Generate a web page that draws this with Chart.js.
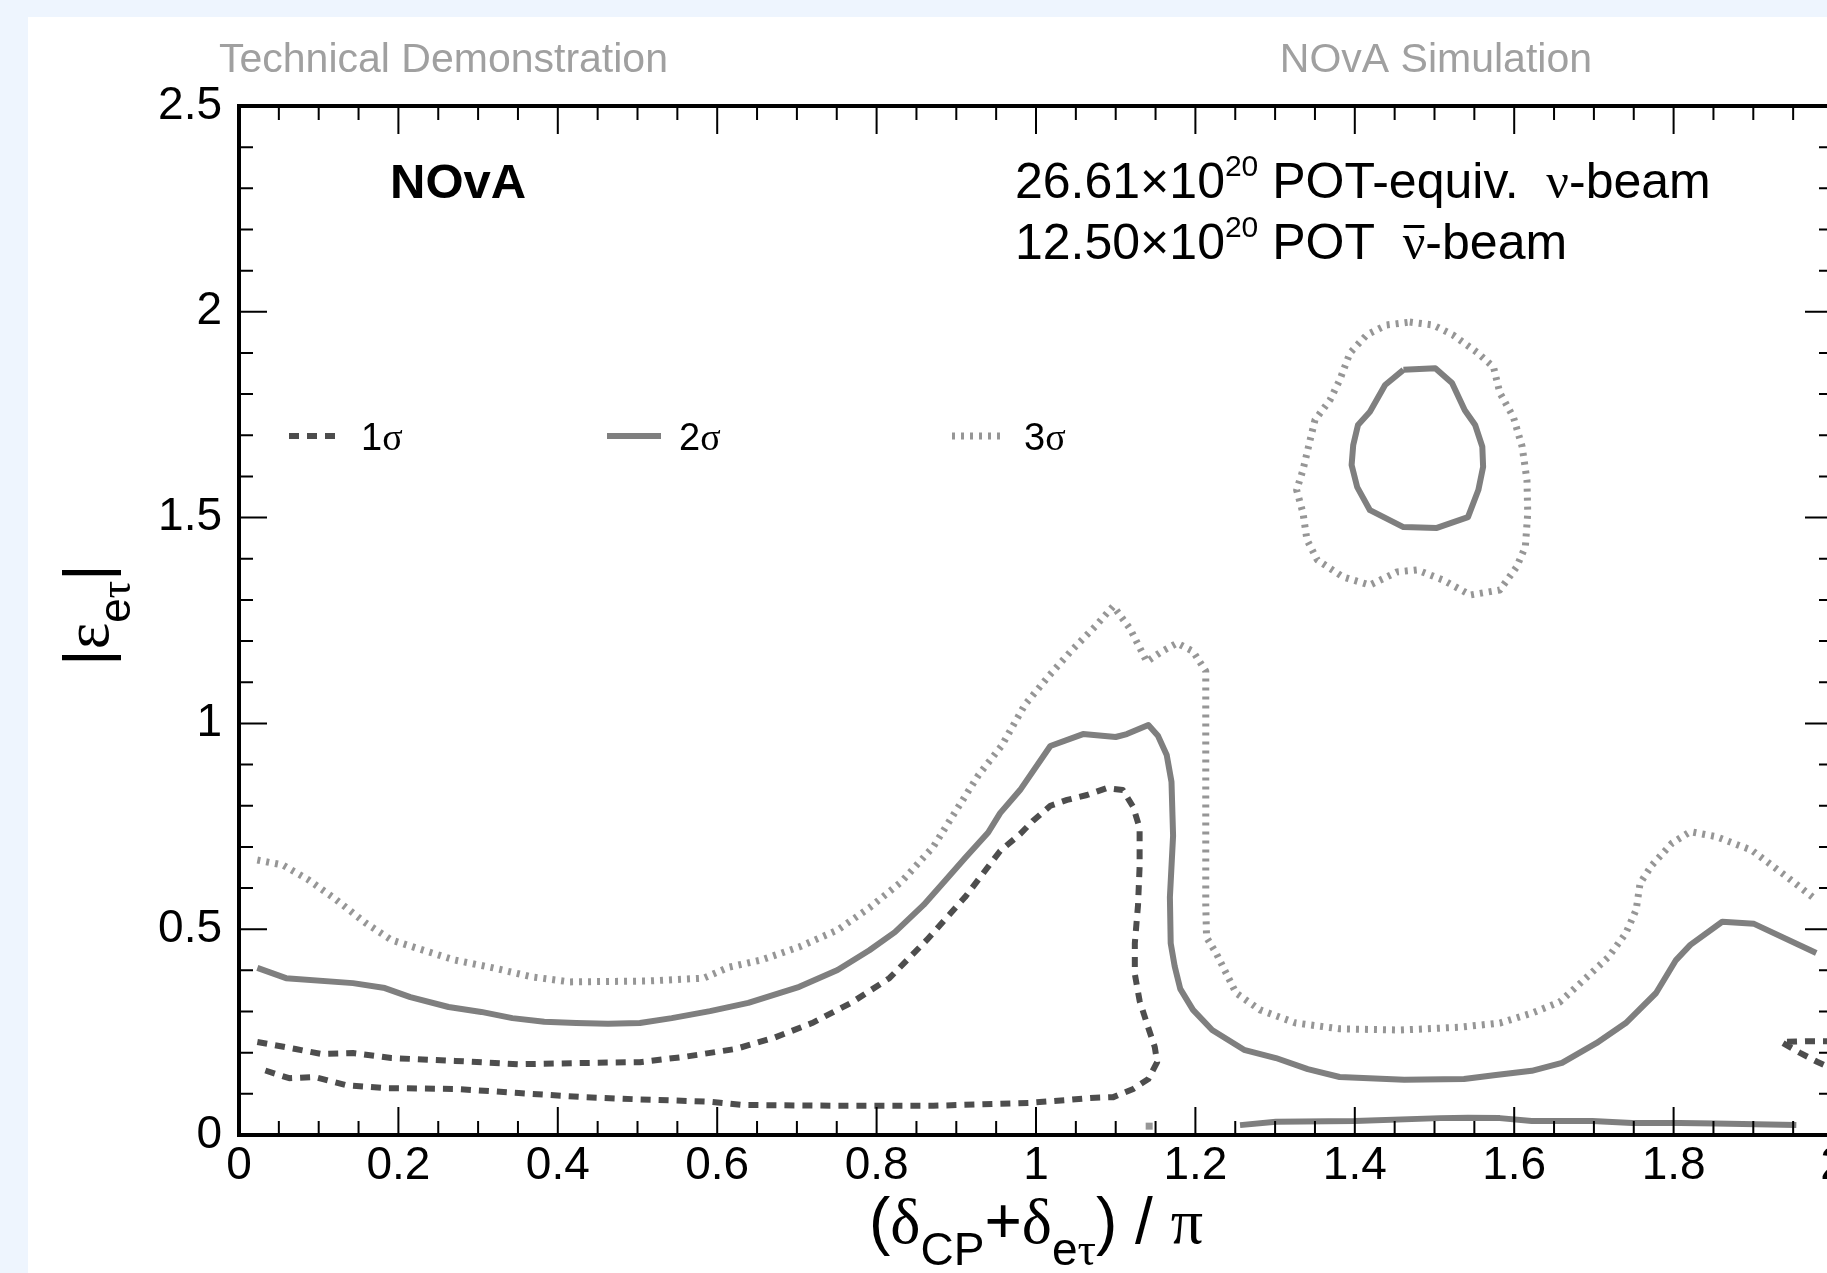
<!DOCTYPE html>
<html>
<head>
<meta charset="utf-8">
<title>NOvA |eps_etau| contours</title>
<script src="https://cdn.jsdelivr.net/npm/chart.js@4.4.1/dist/chart.umd.min.js"></script>
<style>
  html, body { margin: 0; padding: 0; background: #eef5fe; overflow: hidden; }
  #card { position: absolute; left: 28px; top: 17px; width: 1900px; height: 1300px; background: #fff; }
  #plot { position: absolute; left: 0; top: 0; }
</style>
</head>
<body>
<div id="card"></div>
<canvas id="plot" width="1900" height="1273"></canvas>
<script>
// axis ticks
const xTicks = [0, 0.2, 0.4, 0.6, 0.8, 1, 1.2, 1.4, 1.6, 1.8, 2];
const xTickLabels = ['0', '0.2', '0.4', '0.6', '0.8', '1', '1.2', '1.4', '1.6', '1.8', '2'];
const yTicks = [0, 0.5, 1, 1.5, 2, 2.5];
const yTickLabels = ['0', '0.5', '1', '1.5', '2', '2.5'];
const legendLabels = ['1σ', '2σ', '3σ'];

// 1 sigma: one loop open at the left edge, plus the piece wrapping in at x = 2
const sigma1Loop = [
  [0.023,0.226],[0.071,0.209],[0.103,0.197],[0.143,0.199],[0.191,0.187],[0.271,0.180],
  [0.351,0.172],[0.432,0.175],[0.503,0.177],[0.559,0.190],[0.623,0.209],[0.671,0.236],
  [0.719,0.272],[0.768,0.321],[0.816,0.381],[0.863,0.474],[0.911,0.578],[0.955,0.690],
  [0.980,0.731],[0.996,0.763],[1.018,0.800],[1.039,0.814],[1.064,0.826],[1.089,0.843],
  [1.109,0.838],[1.122,0.797],[1.130,0.746],[1.130,0.652],[1.128,0.558],[1.124,0.466],
  [1.124,0.391],[1.130,0.326],[1.141,0.260],[1.149,0.214],[1.152,0.177],[1.141,0.136],
  [1.122,0.112],[1.097,0.092],[1.068,0.090],[1.039,0.085],[0.991,0.078],[0.871,0.071],
  [0.752,0.071],[0.631,0.073],[0.591,0.081],[0.496,0.087],[0.432,0.092],[0.351,0.102],
  [0.271,0.112],[0.183,0.114],[0.135,0.121],[0.095,0.141],[0.063,0.138],[0.031,0.158]
];
const sigma1Edge = [[2.0,0.228],[1.965,0.228],[1.935,0.226],[1.958,0.200],[1.980,0.178],[2.0,0.160]];

// 2 sigma
const sigma2Main = [
  [0.023,0.406],[0.059,0.381],[0.143,0.369],[0.183,0.357],[0.215,0.335],[0.263,0.311],
  [0.304,0.299],[0.343,0.284],[0.383,0.275],[0.423,0.272],[0.463,0.270],[0.503,0.272],
  [0.543,0.284],[0.591,0.301],[0.639,0.321],[0.703,0.360],[0.751,0.401],[0.791,0.449],
  [0.823,0.493],[0.859,0.559],[0.887,0.620],[0.911,0.673],[0.940,0.735],[0.955,0.782],
  [0.980,0.838],[1.018,0.945],[1.059,0.974],[1.100,0.967],[1.114,0.974],[1.141,0.996],
  [1.153,0.970],[1.164,0.923],[1.170,0.858],[1.172,0.727],[1.168,0.578],[1.169,0.466],
  [1.174,0.410],[1.181,0.355],[1.197,0.304],[1.221,0.255],[1.261,0.207],[1.301,0.187],
  [1.341,0.160],[1.381,0.141],[1.462,0.134],[1.537,0.136],[1.577,0.146],[1.622,0.156],
  [1.660,0.175],[1.703,0.223],[1.740,0.272],[1.778,0.345],[1.803,0.425],[1.821,0.462],
  [1.861,0.518],[1.901,0.513],[1.979,0.442]
];
const sigma2Floor = [
  [1.256,0.024],[1.301,0.032],[1.400,0.034],[1.507,0.041],[1.542,0.042],[1.582,0.041],
  [1.622,0.034],[1.698,0.034],[1.748,0.029],[1.808,0.029],[1.853,0.028],[1.954,0.024]
];
const sigma2Island = [
  [1.461,1.859],[1.501,1.863],[1.522,1.827],[1.538,1.761],[1.551,1.725],[1.560,1.672],
  [1.561,1.623],[1.555,1.567],[1.542,1.501],[1.503,1.475],[1.461,1.477],[1.419,1.518],
  [1.403,1.574],[1.396,1.628],[1.398,1.676],[1.404,1.725],[1.419,1.757],[1.438,1.822],
  [1.461,1.859]
];

// 3 sigma
const sigma3Main = [
  [0.023,0.668],[0.055,0.656],[0.087,0.620],[0.119,0.576],[0.159,0.515],[0.191,0.474],
  [0.231,0.449],[0.271,0.425],[0.319,0.406],[0.368,0.384],[0.415,0.372],[0.511,0.374],
  [0.583,0.381],[0.615,0.408],[0.655,0.425],[0.703,0.457],[0.751,0.498],[0.791,0.552],
  [0.831,0.615],[0.871,0.700],[0.928,0.875],[0.957,0.946],[0.986,1.045],[1.016,1.115],
  [1.045,1.178],[1.074,1.235],[1.097,1.285],[1.118,1.230],[1.139,1.150],[1.158,1.175],
  [1.177,1.195],[1.197,1.175],[1.213,1.127],[1.213,0.814],[1.213,0.560],[1.214,0.480],
  [1.226,0.442],[1.251,0.345],[1.281,0.304],[1.326,0.272],[1.381,0.258],[1.457,0.255],
  [1.532,0.262],[1.582,0.272],[1.622,0.296],[1.657,0.323],[1.687,0.376],[1.718,0.432],
  [1.740,0.490],[1.753,0.547],[1.758,0.612],[1.773,0.656],[1.798,0.709],[1.821,0.737],
  [1.853,0.725],[1.898,0.692],[1.939,0.632],[1.979,0.571]
];
const sigma3Island = [
  [1.469,1.975],[1.498,1.968],[1.523,1.944],[1.553,1.902],[1.574,1.866],[1.582,1.803],
  [1.599,1.744],[1.610,1.672],[1.616,1.591],[1.617,1.511],[1.614,1.429],[1.603,1.380],
  [1.582,1.324],[1.545,1.312],[1.511,1.348],[1.478,1.373],[1.453,1.368],[1.419,1.336],
  [1.385,1.356],[1.353,1.397],[1.340,1.446],[1.335,1.511],[1.327,1.567],[1.335,1.616],
  [1.344,1.689],[1.350,1.737],[1.369,1.786],[1.381,1.834],[1.394,1.900],[1.415,1.944],
  [1.440,1.968],[1.469,1.975]
];
const sigma3Speck = [[1.142,0.013],[1.142,0.030]];

const SANS = '"Liberation Sans", Arial, Helvetica, sans-serif';
const SERIF = '"Liberation Serif", "Times New Roman", serif';

const groupStyle = {
  '1σ': { color: '#4d4d4d', width: 6, dash: [10, 8] },
  '2σ': { color: '#7f7f7f', width: 6, dash: [] },
  '3σ': { color: '#969696', width: 7, dash: [3, 6] }
};

function contour(group, pts, extra) {
  const st = groupStyle[group];
  return Object.assign({
    label: group,
    data: pts.map(p => ({ x: p[0], y: p[1] })),
    showLine: true,
    pointRadius: 0,
    pointHoverRadius: 0,
    borderColor: st.color,
    borderWidth: st.width,
    borderDash: st.dash,
    borderCapStyle: 'butt',
    borderJoinStyle: 'round',
    tension: 0,
    fill: false
  }, extra || {});
}

function richWidth(ctx, parts) {
  let w = 0;
  parts.forEach(p => { ctx.font = p.font; w += ctx.measureText(p.t).width; });
  return w;
}

function drawRich(ctx, parts, x, y, align) {
  const total = richWidth(ctx, parts);
  let cx = align === 'center' ? x - total / 2 : align === 'right' ? x - total : x;
  const spans = [];
  parts.forEach(p => {
    ctx.font = p.font;
    ctx.fillText(p.t, cx, y + (p.dy || 0));
    const w = ctx.measureText(p.t).width;
    spans.push({ x: cx, w: w });
    cx += w;
  });
  return spans;
}

/** inward ROOT-style ticks and frame */
const frameTicks = {
  id: 'frameTicks',
  afterDraw(chart) {
    const { ctx, chartArea: a, scales: { x, y } } = chart;
    ctx.save();
    ctx.strokeStyle = '#000';
    ctx.lineWidth = 2;
    ctx.beginPath();
    for (let i = 0; i <= 40; i++) {
      const px = x.getPixelForValue(i * 0.05);
      const len = i % 4 === 0 ? 28 : 14;
      ctx.moveTo(px, a.bottom); ctx.lineTo(px, a.bottom - len);
      ctx.moveTo(px, a.top); ctx.lineTo(px, a.top + len);
    }
    for (let j = 0; j <= 25; j++) {
      const py = y.getPixelForValue(j * 0.1);
      const len = j % 5 === 0 ? 28 : 14;
      ctx.moveTo(a.left, py); ctx.lineTo(a.left + len, py);
      ctx.moveTo(a.right, py); ctx.lineTo(a.right - len, py);
    }
    ctx.stroke();
    ctx.lineWidth = 4;
    ctx.strokeRect(a.left, a.top, a.right - a.left, a.bottom - a.top);
    ctx.restore();
  }
};

/** titles, labels, legend */
const annotations = {
  id: 'annotations',
  afterDraw(chart) {
    const { ctx, chartArea: a } = chart;
    ctx.save();
    ctx.textAlign = 'left';
    ctx.textBaseline = 'alphabetic';

    ctx.fillStyle = '#a0a0a0';
    ctx.font = '41px ' + SANS;
    ctx.fillText('Technical Demonstration', 219, 72);
    ctx.textAlign = 'right';
    ctx.fillText('NOvA Simulation', 1592, 72);
    ctx.textAlign = 'left';

    ctx.fillStyle = '#000';
    ctx.font = 'bold 49px ' + SANS;
    ctx.fillText('NOvA', 390, 198);

    const big = '50px ' + SANS, sup = '30px ' + SANS, grk = '50px ' + SERIF;
    drawRich(ctx, [
      { t: '26.61×10', font: big }, { t: '20', font: sup, dy: -22 },
      { t: ' POT-equiv.  ', font: big }, { t: 'ν', font: grk }, { t: '-beam', font: big }
    ], 1015, 198, 'left');
    const sp = drawRich(ctx, [
      { t: '12.50×10', font: big }, { t: '20', font: sup, dy: -22 },
      { t: ' POT  ', font: big }, { t: 'ν', font: grk }, { t: '-beam', font: big }
    ], 1015, 259, 'left');
    const nu = sp[3];
    ctx.fillRect(nu.x + 1, 259 - 34, nu.w - 2, 3);

    // x title
    const tF = '64px ' + SANS, tG = '64px ' + SERIF, sF = '46px ' + SANS, sG = '46px ' + SERIF;
    drawRich(ctx, [
      { t: '(', font: tF }, { t: 'δ', font: tG }, { t: 'CP', font: sF, dy: 22 },
      { t: '+', font: tF }, { t: 'δ', font: tG }, { t: 'e', font: sF, dy: 22 }, { t: 'τ', font: sG, dy: 22 },
      { t: ') / ', font: tF }, { t: 'π', font: tG }
    ], (a.left + a.right) / 2, 1243, 'center');

    // y title
    const yF = '63px ' + SANS, yG = '63px ' + SERIF, ysF = '44px ' + SANS, ysG = '44px ' + SERIF;
    ctx.save();
    ctx.translate(108, 615);
    ctx.rotate(-Math.PI / 2);
    drawRich(ctx, [
      { t: '|', font: yF }, { t: 'ε', font: yG }, { t: 'e', font: ysF, dy: 22 }, { t: 'τ', font: ysG, dy: 22 },
      { t: '|', font: yF }
    ], 0, 0, 'center');
    ctx.restore();

    // legend, 3 columns
    const legendX = [289, 607, 952];
    const legendY = 436;
    legendLabels.forEach((lab, i) => {
      const st = groupStyle[lab];
      ctx.save();
      ctx.strokeStyle = st.color;
      ctx.lineWidth = st.width;
      ctx.setLineDash(st.dash);
      ctx.beginPath();
      ctx.moveTo(legendX[i], legendY);
      ctx.lineTo(legendX[i] + 54, legendY);
      ctx.stroke();
      ctx.restore();
      drawRich(ctx, [
        { t: lab.charAt(0), font: '38px ' + SANS }, { t: 'σ', font: '38px ' + SERIF }
      ], legendX[i] + 72, legendY + 14, 'left');
    });
    ctx.restore();
  }
};

const tickFont = { family: SANS, size: 46 };

new Chart(document.getElementById('plot'), {
  type: 'scatter',
  data: {
    datasets: [
      contour('3σ', sigma3Main),
      contour('3σ', sigma3Island),
      contour('3σ', sigma3Speck, { borderDash: [] }),
      contour('2σ', sigma2Main),
      contour('2σ', sigma2Island),
      contour('2σ', sigma2Floor),
      contour('1σ', sigma1Loop),
      contour('1σ', sigma1Edge)
    ]
  },
  options: {
    responsive: false,
    animation: false,
    devicePixelRatio: 1,
    layout: { padding: { left: 0, top: 106, right: 67, bottom: 0 } },
    plugins: { legend: { display: false }, tooltip: { enabled: false } },
    scales: {
      x: {
        type: 'linear', min: 0, max: 2,
        grid: { display: false, drawTicks: false },
        border: { display: false },
        afterBuildTicks: s => { s.ticks = xTicks.map(v => ({ value: v })); },
        afterFit: s => { s.height = 138; },
        ticks: {
          autoSkip: false, maxRotation: 0, padding: 4, color: '#000', font: tickFont,
          callback: (v, i) => xTickLabels[i]
        }
      },
      y: {
        type: 'linear', min: 0, max: 2.5,
        grid: { display: false, drawTicks: false },
        border: { display: false },
        afterBuildTicks: s => { s.ticks = yTicks.map(v => ({ value: v })); },
        afterFit: s => { s.width = 239; },
        ticks: {
          autoSkip: false, padding: 17, color: '#000', font: tickFont,
          callback: (v, i) => yTickLabels[i]
        }
      }
    }
  },
  plugins: [frameTicks, annotations]
});
</script>
</body>
</html>
